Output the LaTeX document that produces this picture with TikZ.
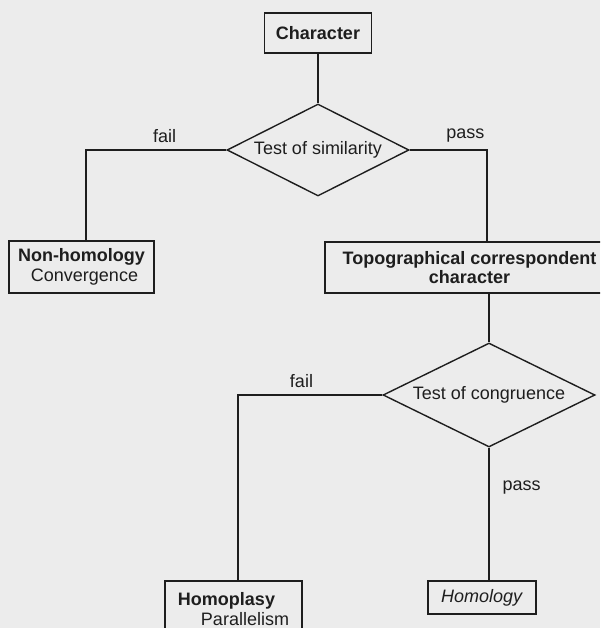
\documentclass[tikz,border=0pt]{standalone}
\usepackage{fontspec}
\setmainfont{Liberation Sans}
\usetikzlibrary{shapes.geometric}
\definecolor{paper}{RGB}{236,236,236}
\definecolor{ink}{RGB}{30,30,30}

\begin{document}
\begin{tikzpicture}[x=1pt,y=-1pt,line width=1.4pt,draw=ink,text=ink,
    every node/.style={font=\fontsize{18}{19.5}\selectfont},
    box/.style={draw,rectangle,inner sep=0pt},
    test/.style={draw,diamond,aspect=2,inner sep=0pt},
    lbl/.style={inner sep=1pt}]
  \fill[paper] (0,0) rectangle (600,628);
  \clip (0,0) rectangle (600,628);
  \node[box,minimum width=107pt,minimum height=40pt] (char) at (318,33) {\textbf{Character}};
  \node[test,minimum width=182pt,minimum height=92pt] (sim) at (318,150) {Test of similarity};
  \node[box,minimum width=145pt,minimum height=52pt,align=center] (nonhom) at (81.5,267)
    {\textbf{Non-homology}\\\hspace*{6pt}Convergence};
  \node[box,minimum width=289pt,minimum height=51pt,align=center] (topo) at (469.5,267.5)
    {\textbf{Topographical correspondent}\\\textbf{character}};
  \node[test,minimum width=212pt,minimum height=104pt] (cong) at (489,395) {Test of congruence};
  \node[box,minimum width=137pt,minimum height=56pt,align=left] (homopl) at (233.5,609)
    {\textbf{Homoplasy}\\\hspace*{23pt}Parallelism};
  \node[box,minimum width=108pt,minimum height=33pt] (homol) at (482,597.5) {\textit{Homology}};
  % connectors
  \draw (char) -- (sim);
  \draw (sim.west) -| node[lbl,pos=.22,above=6pt] {fail} ([xshift=4.5pt]nonhom.north);
  \draw (sim.east) -| node[lbl,pos=.36,above=6pt] {pass} ([xshift=17.5pt]topo.north);
  \draw (cong.north |- topo.south) -- (cong.north);
  \draw (cong.west) -| node[lbl,pos=.28,above=6pt] {fail} ([xshift=4.5pt]homopl.north);
  \draw (cong.south) -- node[lbl,pos=.3,right=12pt] {pass} (cong.south |- homol.north);
\end{tikzpicture}
\end{document}
